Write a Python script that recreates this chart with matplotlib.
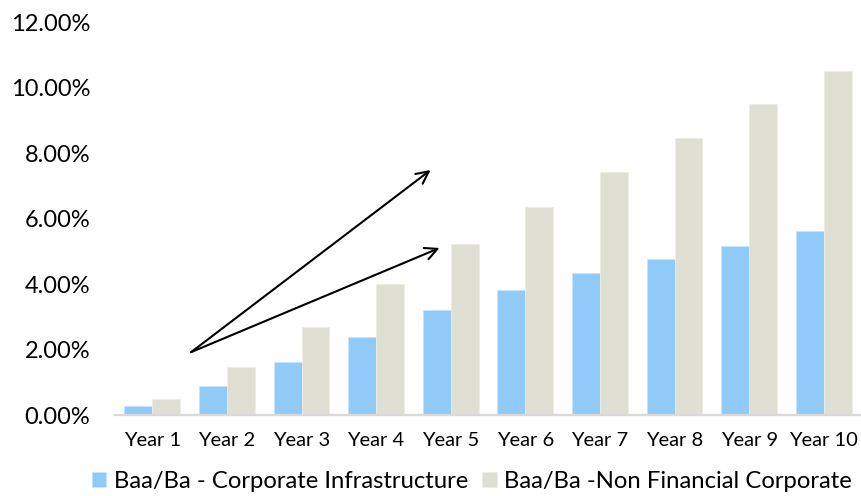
import matplotlib
matplotlib.use("Agg")
import matplotlib.pyplot as plt
import numpy as np
from matplotlib.ticker import FuncFormatter

plt.rcParams["font.family"] = ["Lato", "DejaVu Sans"]

years = ["Year 1", "Year 2", "Year 3", "Year 4", "Year 5",
         "Year 6", "Year 7", "Year 8", "Year 9", "Year 10"]
infra = [0.27, 0.90, 1.61, 2.38, 3.21, 3.82, 4.33, 4.75, 5.15, 5.62]
non_fin = [0.49, 1.47, 2.69, 4.01, 5.21, 6.35, 7.43, 8.47, 9.50, 10.50]
series_names = ["Baa/Ba - Corporate Infrastructure", "Baa/Ba -Non Financial Corporate"]
yticks = [0, 2, 4, 6, 8, 10, 12]

# arrows highlighting the widening gap (start, ends) in data units
arrow_start = (0.52, 1.92)
arrow_ends = [(3.73, 7.48), (3.85, 5.10)]

blue = "#90CAF9"
grey = "#DFE0D3"

fig = plt.figure(figsize=(8.61, 4.96), dpi=100)
ax = fig.add_axes([0.1336, 0.1633, 0.8664, 0.7923])

x = np.arange(len(years))
w = 0.375
b1 = ax.bar(x - w / 2, infra, width=w, color=blue, edgecolor="#C8E4FB", linewidth=0.6,
            label=series_names[0])
b2 = ax.bar(x + w / 2, non_fin, width=w, color=grey, edgecolor="#ECEDE4", linewidth=0.6,
            label=series_names[1])

ax.set_xlim(-0.5, len(years) - 0.5)
ax.set_ylim(0, 12)
ax.set_yticks(yticks)
ax.yaxis.set_major_formatter(FuncFormatter(lambda v, p: f"{v:.2f}%"))
ax.set_xticks(x)
ax.set_xticklabels(years)

for s in ["top", "right", "left"]:
    ax.spines[s].set_visible(False)
ax.spines["bottom"].set_color("#D9D9D9")
ax.spines["bottom"].set_linewidth(1.6)

ax.tick_params(axis="y", length=0, pad=18, labelsize=17, labelcolor="#000000")
ax.tick_params(axis="x", length=0, pad=12, labelsize=14.5, labelcolor="#000000")

for end in arrow_ends:
    ax.annotate("", xy=end, xytext=arrow_start,
                arrowprops=dict(arrowstyle="->", color="black", lw=1.5,
                                mutation_scale=22, shrinkA=0, shrinkB=0))

fig.legend(handles=[b1, b2], labels=series_names, loc="center",
           bbox_to_anchor=(0.548, 0.03), ncol=2, frameon=False,
           fontsize=17.2, handlelength=0.6, handleheight=0.6,
           handletextpad=0.3, columnspacing=0.6, borderaxespad=0)

fig.savefig("out.png", dpi=100)
